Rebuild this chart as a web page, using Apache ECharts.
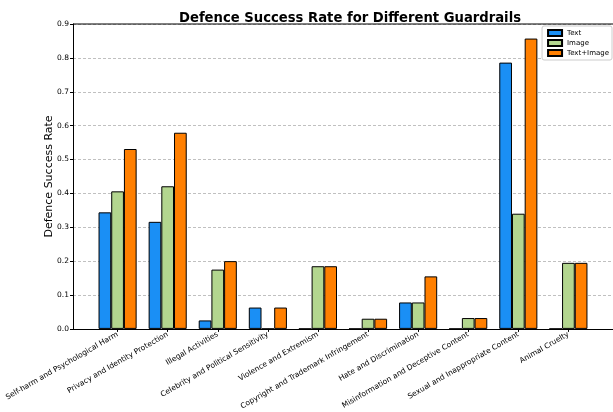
<!DOCTYPE html>
<html>
<head>
<meta charset="utf-8">
<script src="https://cdn.jsdelivr.net/npm/echarts@6/dist/echarts.min.js"></script>
<style>html,body{margin:0;padding:0;background:#fff}#c{width:613px;height:412px}</style>
</head>
<body>
<div id="c"></div>
<script>
const categories = [
  "Self-harm and Psychological Harm",
  "Privacy and Identity Protection",
  "Illegal Activities",
  "Celebrity and Political Sensitivity",
  "Violence and Extremism",
  "Copyright and Trademark Infringement",
  "Hate and Discrimination",
  "Misinformation and Deceptive Content",
  "Sexual and Inappropriate Content",
  "Animal Cruelty"
];
const textVals = [0.344, 0.316, 0.025, 0.063, 0, 0, 0.078, 0, 0.786, 0];
const imageVals = [0.406, 0.421, 0.175, 0, 0.185, 0.030, 0.078, 0.032, 0.340, 0.195];
const textImageVals = [0.531, 0.579, 0.200, 0.063, 0.185, 0.030, 0.155, 0.032, 0.857, 0.195];
const yTicks = [0, 0.1, 0.2, 0.3, 0.4, 0.5, 0.6, 0.7, 0.8, 0.9];

const FONT = "DejaVu Sans";
const idx = categories.map((_, i) => i);
const toData = arr => arr.map((v, i) => [i, v]);

const chart = echarts.init(document.getElementById('c'), null, {renderer: 'canvas'});
const barStyle = c => ({color: c, borderColor: '#000', borderWidth: 1});
chart.setOption({
  animation: false,
  textStyle: {fontFamily: FONT},
  title: {
    text: 'Defence Success Rate for Different Guardrails',
    left: 345, top: 7, textAlign: 'center',
    textStyle: {fontFamily: FONT, fontSize: 13.2, fontWeight: 'bold', color: '#000'}
  },
  legend: {
    orient: 'vertical', right: 1, top: 26,
    itemWidth: 14, itemHeight: 6, itemGap: 2,
    padding: [3, 3, 3, 5],
    backgroundColor: '#fff', borderColor: '#ccc', borderWidth: 1, borderRadius: 2,
    icon: 'rect',
    textStyle: {fontFamily: FONT, fontSize: 7, color: '#000'},
    data: ['Text', 'Image', 'Text+Image']
  },
  grid: {left: 73, right: -4, top: 24, bottom: 79, containLabel: false},
  xAxis: {
    type: 'value', min: -0.89, max: 9.89,
    splitLine: {show: false},
    axisLine: {show: true, onZero: false, lineStyle: {color: '#000', width: 1}},
    axisTick: {show: true, customValues: idx, length: 3, lineStyle: {color: '#000'}},
    axisLabel: {
      show: true, customValues: idx, rotate: 30, margin: 5,
      fontFamily: FONT, fontSize: 7.5, color: '#000',
      formatter: v => categories[Math.round(v)] || ''
    }
  },
  yAxis: {
    type: 'value', min: 0, max: 0.9, interval: 0.1,
    name: 'Defence Success Rate', nameLocation: 'middle', nameGap: 18,
    nameMoveOverlap: false,
    nameTextStyle: {fontFamily: FONT, fontSize: 11, color: '#000'},
    axisLine: {show: true, onZero: false, lineStyle: {color: '#000', width: 1}},
    axisTick: {show: true, length: 3, lineStyle: {color: '#000'}},
    axisLabel: {fontFamily: FONT, fontSize: 7.5, color: '#000', margin: 4, formatter: v => v.toFixed(1)},
    splitLine: {show: true, lineStyle: {color: '#b0b0b0', type: [3, 2], width: 0.8}}
  },
  graphic: [{
    type: 'line', shape: {x1: 73, y1: 24, x2: 613, y2: 24},
    style: {stroke: '#000', lineWidth: 1}, z: 100
  }],
  series: [
    {name: 'Text', type: 'bar', data: toData(textVals), barWidth: 12.7, barGap: '0%', itemStyle: barStyle('#1a8ff5')},
    {name: 'Image', type: 'bar', data: toData(imageVals), barWidth: 12.7, barGap: '0%', itemStyle: barStyle('#b3d68f')},
    {name: 'Text+Image', type: 'bar', data: toData(textImageVals), barWidth: 12.7, barGap: '0%', itemStyle: barStyle('#ff7f00')}
  ]
});
</script>
</body>
</html>
